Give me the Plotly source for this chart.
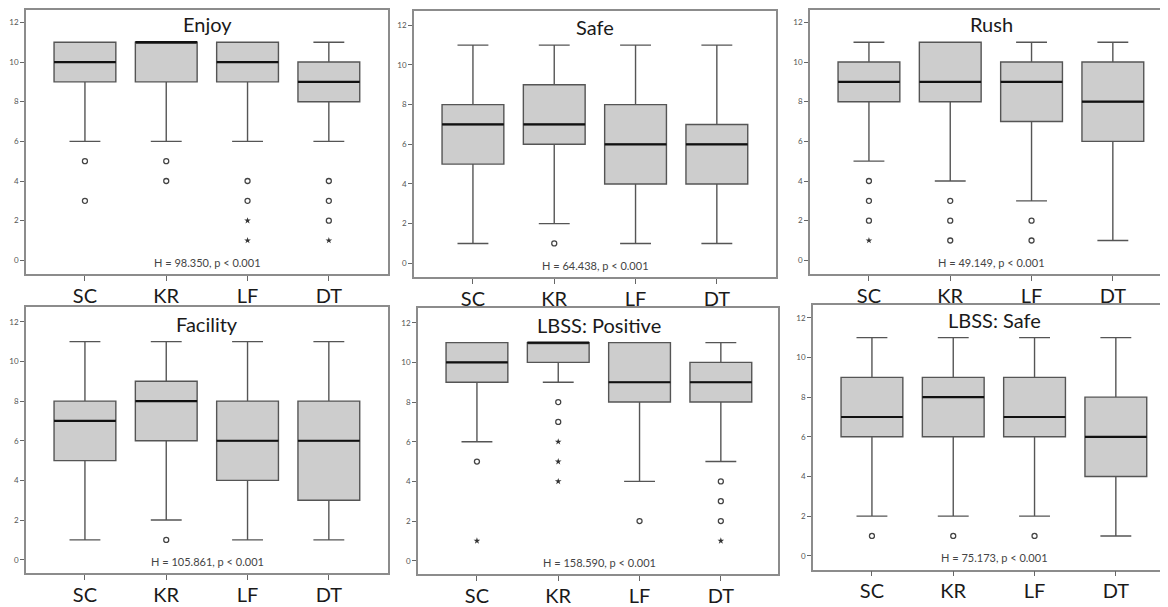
import plotly.graph_objects as go

# The page body has an 8px default margin, so the figure is drawn 8px in.
OFF = 8
W, H = 1168 - OFF, 607 - OFF

categories = ["SC", "KR", "LF", "DT"]
titles = ["Enjoy", "Safe", "Rush", "Facility", "LBSS: Positive", "LBSS: Safe"]
h_stats = ["98.350", "64.438", "49.149", "105.861", "158.590", "75.173"]

# per panel, per category (SC, KR, LF, DT)
q1 = [[9, 9, 9, 8], [5, 6, 4, 4], [8, 8, 7, 6], [5, 6, 4, 3], [9, 10, 8, 8], [6, 6, 6, 4]]
median = [[10, 11, 10, 9], [7, 7, 6, 6], [9, 9, 9, 8], [7, 8, 6, 6], [10, 11, 9, 9], [7, 8, 7, 6]]
q3 = [[11, 11, 11, 10], [8, 9, 8, 7], [10, 11, 10, 10], [8, 9, 8, 8], [11, 11, 11, 10], [9, 9, 9, 8]]
lower_whisker = [[6, 6, 6, 6], [1, 2, 1, 1], [5, 4, 3, 1], [1, 2, 1, 1], [6, 9, 4, 5], [2, 2, 2, 1]]
upper_whisker = [[11, 11, 11, 11], [11, 11, 11, 11], [11, 11, 11, 11], [11, 11, 11, 11], [11, 11, 11, 11], [11, 11, 11, 11]]

# outliers (circles) and extreme values (stars): (category, value)
circles = [
    [("SC", 5), ("SC", 3), ("KR", 5), ("KR", 4), ("LF", 4), ("LF", 3), ("DT", 4), ("DT", 3), ("DT", 2)],
    [("KR", 1)],
    [("SC", 4), ("SC", 3), ("SC", 2), ("KR", 3), ("KR", 2), ("KR", 1), ("LF", 2), ("LF", 1)],
    [("KR", 1)],
    [("SC", 5), ("KR", 8), ("KR", 7), ("LF", 2), ("DT", 4), ("DT", 3), ("DT", 2)],
    [("SC", 1), ("KR", 1), ("LF", 1)],
]
stars = [
    [("LF", 2), ("LF", 1), ("DT", 1)],
    [],
    [("SC", 1)],
    [],
    [("SC", 1), ("KR", 6), ("KR", 5), ("KR", 4), ("DT", 1)],
    [],
]

# panel frames in page pixels: left, right, top, bottom
frames = [
    (26, 388, 6, 277),
    (414, 776, 9, 280),
    (810, 1168, 7, 277),
    (26, 388, 311, 582),
    (418, 778, 312, 583),
    (813, 1168, 309, 578),
]
cat_step = 81.3
unit_px = 20.2      # pixels per y unit
zero_gap = 14       # pixels between frame bottom and y = 0
full_w = 362

BOX_FILL = "#cdcdcd"
BOX_LINE = "#555555"
FRAME = "#8c8c8c"
FONT = "Lato"

fig = go.Figure()
layout = {}
annotations = []

for i in range(6):
    n = "" if i == 0 else str(i + 1)
    xa, ya = "x" + n, "y" + n
    left, right, top, bottom = [v - OFF for v in frames[i]]
    top_c = max(0, top)
    right_c = min(W, right)
    x_lo = -0.725
    x_hi = x_lo + (right_c - left) / cat_step
    y_lo = -zero_gap / unit_px
    y_hi = (bottom - zero_gap - top_c) / unit_px
    cx = min(1.0, 0.5 * full_w / (right_c - left))

    fig.add_trace(go.Box(
        x=categories, q1=q1[i], median=median[i], q3=q3[i],
        lowerfence=lower_whisker[i], upperfence=upper_whisker[i],
        width=0.76, whiskerwidth=0.5, fillcolor=BOX_FILL,
        line=dict(color=BOX_LINE, width=1.4), boxpoints=False,
        xaxis=xa, yaxis=ya, showlegend=False, hoverinfo="skip"))
    # median bar overlay (black, thicker)
    fig.add_trace(go.Box(
        x=categories, q1=median[i], median=median[i], q3=median[i],
        lowerfence=median[i], upperfence=median[i],
        width=0.76, whiskerwidth=0, fillcolor="rgba(0,0,0,0)",
        line=dict(color="#111111", width=2.2), boxpoints=False,
        xaxis=xa, yaxis=ya, showlegend=False, hoverinfo="skip"))
    if circles[i]:
        fig.add_trace(go.Scatter(
            x=[c for c, v in circles[i]], y=[v for c, v in circles[i]],
            mode="markers", marker=dict(symbol="circle-open", size=5,
                                        color="#444444", line=dict(width=1.3)),
            xaxis=xa, yaxis=ya, showlegend=False, hoverinfo="skip"))
    if stars[i]:
        fig.add_trace(go.Scatter(
            x=[c for c, v in stars[i]], y=[v for c, v in stars[i]],
            mode="markers", marker=dict(symbol="star", size=5, color="#333333"),
            xaxis=xa, yaxis=ya, showlegend=False, hoverinfo="skip"))

    layout["xaxis" + n] = dict(
        domain=[left / W, right_c / W], anchor=ya, type="category",
        categoryorder="array", categoryarray=categories,
        range=[x_lo, x_hi], showline=True, linecolor=FRAME, linewidth=1.5,
        mirror=True, ticks="outside", ticklen=5, tickcolor="#666666",
        ticklabelstandoff=-2,
        tickfont=dict(family=FONT, size=20, color="#1a1a1a"),
        showgrid=False, zeroline=False, fixedrange=True)
    layout["yaxis" + n] = dict(
        domain=[1 - bottom / H, 1 - top_c / H], anchor=xa,
        range=[y_lo, y_hi], tickvals=[0, 2, 4, 6, 8, 10, 12],
        showline=True, linecolor=FRAME, linewidth=1.5,
        mirror=(i not in (2, 5)), ticks="outside", ticklen=4,
        tickcolor="#666666", tickfont=dict(family=FONT, size=8, color="#555555"),
        showgrid=False, zeroline=False, fixedrange=True)

    annotations.append(dict(
        text=titles[i], xref=xa + " domain", yref=ya,
        x=cx, y=12 - 2 / unit_px, yanchor="middle", xanchor="center", showarrow=False,
        font=dict(family=FONT, size=20, color="#1a1a1a")))
    annotations.append(dict(
        text=f"H = {h_stats[i]}, p < 0.001", xref=xa + " domain", yref=ya,
        x=cx, y=-0.1, yanchor="middle", xanchor="center", showarrow=False,
        font=dict(family=FONT, size=11, color="#444444")))

fig.update_layout(
    width=W, height=H, margin=dict(l=0, r=0, t=0, b=0),
    paper_bgcolor="white", plot_bgcolor="white",
    annotations=annotations, **layout)

fig.write_html("out.html")
